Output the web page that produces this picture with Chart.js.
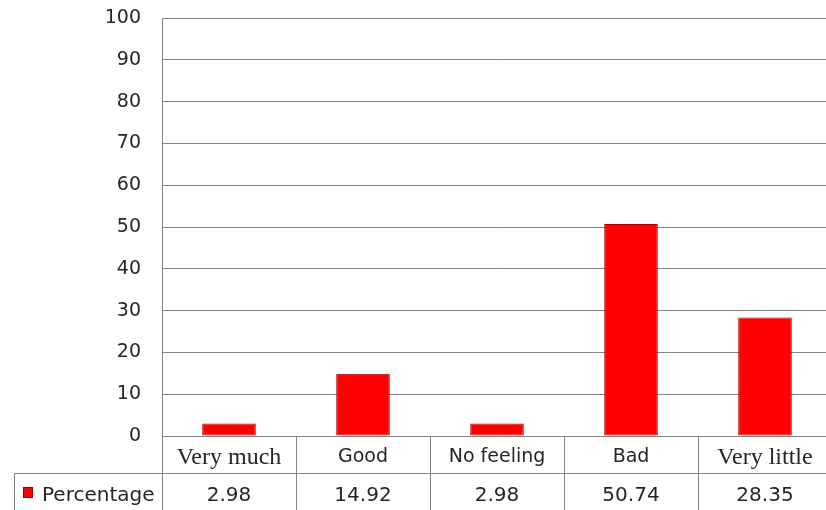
<!DOCTYPE html>
<html>
<head>
<meta charset="utf-8">
<script src="https://cdn.jsdelivr.net/npm/chart.js@4/dist/chart.umd.min.js"></script>
<style>
html,body{margin:0;padding:0;background:#fff;overflow:hidden;width:826px;height:510px;}
#wrap{position:relative;width:840px;height:510px;}
</style>
</head>
<body>
<div id="wrap"><canvas id="c" width="840" height="510"></canvas></div>
<script>
const categories = ["Very much", "Good", "No feeling", "Bad", "Very little"];
const percentage = [2.98, 14.92, 2.98, 50.74, 28.35];
const valueLabels = ["2.98", "14.92", "2.98", "50.74", "28.35"];
const seriesName = "Percentage";
const serifCats = ["Very much", "Very little"];

const gridColor = "#858585";
const textColor = "#262626";

function barFill(context) {
  const chart = context.chart;
  const el = chart.getDatasetMeta(0).data[context.dataIndex];
  if (!el || !isFinite(el.x) || !isFinite(el.width)) return "#ff0000";
  const x0 = el.x - el.width / 2, x1 = el.x + el.width / 2;
  const g = chart.ctx.createLinearGradient(x0, 0, x1, 0);
  g.addColorStop(0, "#d00000");
  g.addColorStop(0.08, "#ff0a0a");
  g.addColorStop(0.9, "#ff0000");
  g.addColorStop(1, "#c80000");
  return g;
}

const tablePlugin = {
  id: "dataTable",
  afterDraw(chart) {
    const ctx = chart.ctx;
    const ca = chart.chartArea;
    const xs = chart.scales.x;
    const n = categories.length;
    const w = (xs.getPixelForValue(1) - xs.getPixelForValue(0));
    const row1Top = ca.bottom;
    const row2Top = 473;
    const tableBottom = 512;
    const legendLeft = 14;
    ctx.save();
    ctx.strokeStyle = gridColor;
    ctx.lineWidth = 1;
    ctx.beginPath();
    const lx = Math.round(ca.left) + 0.5;
    ctx.moveTo(lx, row1Top); ctx.lineTo(lx, tableBottom);
    for (let i = 1; i < n + 1; i++) {
      const bx = Math.round(xs.getPixelForValue(i - 1) + w / 2) + 0.5;
      ctx.moveTo(bx, row1Top); ctx.lineTo(bx, tableBottom);
    }
    ctx.moveTo(legendLeft, row2Top + 0.5); ctx.lineTo(chart.width, row2Top + 0.5);
    ctx.moveTo(legendLeft + 0.5, row2Top); ctx.lineTo(legendLeft + 0.5, tableBottom);
    ctx.stroke();

    ctx.textAlign = "center";
    ctx.textBaseline = "middle";
    for (let i = 0; i < n; i++) {
      const cx = xs.getPixelForValue(i);
      if (serifCats.includes(categories[i])) {
        ctx.font = "24px 'Liberation Serif'";
      } else {
        ctx.font = "19px 'DejaVu Sans'";
      }
      ctx.fillStyle = textColor;
      ctx.fillText(categories[i], cx, (row1Top + row2Top) / 2 + 3);
      ctx.font = "20px 'DejaVu Sans'";
      ctx.fillStyle = textColor;
      ctx.fillText(valueLabels[i], cx, (row2Top + 510) / 2 + 4);
    }
    ctx.fillStyle = "#ff0000";
    ctx.fillRect(23, 487, 10, 11);
    ctx.strokeStyle = "#a00000";
    ctx.strokeRect(23.5, 487.5, 9, 10);
    ctx.fillStyle = textColor;
    ctx.textAlign = "left";
    ctx.font = "20px 'DejaVu Sans'";
    ctx.fillText(seriesName, 42, (row2Top + 510) / 2 + 4);
    ctx.restore();
  }
};

new Chart(document.getElementById("c"), {
  type: "bar",
  data: {
    labels: categories,
    datasets: [{
      label: seriesName,
      data: percentage,
      backgroundColor: barFill,
      borderColor: "#a80000",
      borderWidth: 1,
      borderSkipped: false,
      categoryPercentage: 1,
      barPercentage: 0.4
    }]
  },
  options: {
    responsive: false,
    animation: false,
    devicePixelRatio: 1,
    layout: { padding: { top: 18, right: 8, bottom: 74, left: 0 } },
    plugins: { legend: { display: false }, tooltip: { enabled: false } },
    scales: {
      x: { display: false, offset: true },
      y: {
        min: 0, max: 100,
        ticks: { stepSize: 10, padding: 21, color: textColor, font: { family: "DejaVu Sans", size: 19 } },
        grid: { color: gridColor, drawTicks: false, lineWidth: 1 },
        border: { color: gridColor, width: 1 },
        afterFit(scale) { scale.width = 162; scale.paddingTop = 0; scale.paddingBottom = 0; }
      }
    }
  },
  plugins: [tablePlugin]
});
</script>
</body>
</html>
